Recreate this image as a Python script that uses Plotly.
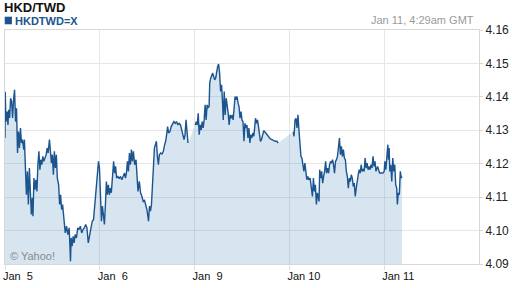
import plotly.graph_objects as go

# Trading-time hours since Jan 5 00:00 GMT (weekend removed), and HKD/TWD rate
hours = [
    0.00, 0.05, 0.25, 0.50, 0.75, 0.92, 1.17, 1.42, 1.67, 1.92, 2.17, 2.42, 2.67, 2.92,
    3.17, 3.42, 3.67, 3.92, 4.17, 4.42, 4.75, 4.92, 5.17, 5.42, 5.67, 5.92, 6.17, 6.42,
    6.67, 6.92, 7.08, 7.33, 7.58, 7.83, 8.08, 8.33, 8.58, 8.83, 9.08, 9.33, 9.58, 9.83,
    10.08, 10.42, 10.67, 10.92, 11.25, 11.50, 11.75, 12.00, 12.25, 12.50, 12.75, 13.00,
    13.25, 13.58, 13.83, 14.08, 14.33, 14.58, 14.92, 15.25, 15.58, 15.92, 16.25, 16.58,
    16.75, 17.00, 17.25, 17.50, 17.75, 18.08, 18.42, 18.75, 19.08, 19.42, 19.75, 20.08,
    20.42, 20.75, 21.08, 21.42, 21.75, 22.08, 22.42, 22.67, 22.92, 23.17, 23.42, 23.67,
    23.92, 24.17, 24.42, 24.67, 24.92, 25.17, 25.42, 25.67, 25.92, 26.17, 26.42, 26.67,
    26.92, 27.25, 27.50, 27.75, 28.00, 28.25, 28.58, 28.92, 29.25, 29.58, 29.92, 30.25,
    30.50, 30.75, 31.00, 31.25, 31.50, 31.75, 32.00, 32.25, 32.50, 32.83, 33.17, 33.42,
    33.67, 34.00, 34.33, 34.67, 35.00, 35.33, 35.67, 35.92, 36.17, 36.33, 36.58, 36.83,
    37.08, 37.33, 37.58, 37.83, 38.08, 38.33, 38.58, 38.83, 39.08, 39.42, 39.75, 40.08,
    40.42, 40.67, 40.92, 41.17, 41.42, 41.75, 42.08, 42.42, 42.75, 43.08, 43.42, 43.75,
    44.08, 44.42, 44.75, 45.08, 45.33, 45.58, 45.83, 46.08, 46.33,
    48.17, 48.42, 48.67, 48.92, 49.17, 49.42, 49.67, 49.92, 50.17, 50.42, 50.67, 50.92,
    51.17, 51.42, 51.67, 51.83, 52.08, 52.33, 52.58, 52.83, 53.08, 53.33, 53.58, 53.83,
    54.08, 54.33, 54.58, 54.83, 55.08, 55.25, 55.50, 55.75, 56.00, 56.25, 56.50, 56.75,
    57.00, 57.25, 57.50, 57.75, 58.00, 58.25, 58.50, 58.75, 59.00, 59.25, 59.50, 59.75,
    60.00, 60.25, 60.50, 60.75, 61.00, 61.25, 61.50, 61.75, 62.00, 62.25, 62.50, 62.75,
    63.00, 63.25, 63.42, 63.67, 63.92, 64.17, 64.42, 64.67, 64.92, 65.17, 65.50, 65.83,
    66.17, 66.50, 66.83, 67.17, 67.58, 68.00, 68.42, 68.83, 69.17,
    73.00, 73.17, 73.42, 73.67, 73.92, 74.17, 74.42, 74.67, 74.92, 75.17, 75.42, 75.67,
    75.92, 76.17, 76.42, 76.67, 76.92, 77.25, 77.58, 77.83, 78.08, 78.33, 78.58, 78.83,
    79.08, 79.33, 79.50, 79.67, 79.92, 80.17, 80.42, 80.67, 80.92, 81.17, 81.42, 81.67,
    81.92, 82.17, 82.42, 82.67, 82.92, 83.17, 83.42, 83.67, 83.92, 84.17, 84.42, 84.67,
    84.92, 85.17, 85.42, 85.67, 85.92, 86.17, 86.42, 86.67, 86.92, 87.17, 87.42, 87.67,
    87.92, 88.17, 88.42, 88.67, 88.92, 89.17, 89.42, 89.67, 89.92, 90.17, 90.42, 90.67,
    90.92, 91.17, 91.42, 91.67, 91.92, 92.17, 92.42, 92.67, 92.92, 93.17, 93.42, 93.67,
    93.92, 94.33, 94.58, 94.83, 95.25, 95.67, 96.00, 96.17, 96.42, 96.67, 96.92, 97.08,
    97.25, 97.42, 97.67, 97.92, 98.17, 98.42, 98.67, 98.92, 99.17, 99.33, 99.58, 99.83,
    100.08, 100.33, 100.48,
]

rate = [
    4.1277, 4.1415, 4.1326, 4.1356, 4.1316, 4.1361, 4.1337, 4.1396, 4.1386, 4.1337, 4.1391, 4.1421, 4.1326, 4.1366,
    4.1232, 4.1296, 4.1247, 4.1307, 4.1262, 4.1272, 4.1242, 4.1272, 4.1187, 4.1107, 4.1177, 4.1078, 4.1187, 4.1117,
    4.1048, 4.1098, 4.1043, 4.1157, 4.1122, 4.1152, 4.1117, 4.1197, 4.1237, 4.1182, 4.1212, 4.1197, 4.1222, 4.1207,
    4.1217, 4.1227, 4.1247, 4.1232, 4.1272, 4.1237, 4.1202, 4.1227, 4.1167, 4.1237, 4.1187, 4.1227,
    4.1157, 4.1137, 4.1078, 4.1107, 4.1063, 4.1078, 4.1018, 4.0993, 4.1013, 4.0988, 4.1008, 4.0908,
    4.0978, 4.0953, 4.0983, 4.0963, 4.0988, 4.0978, 4.1008, 4.1003, 4.1013, 4.0993, 4.1003, 4.1008,
    4.1018, 4.1008, 4.0963, 4.0988, 4.1008, 4.1028, 4.1033, 4.1073, 4.1098, 4.1157, 4.1192, 4.1207,
    4.1187, 4.1098, 4.1028, 4.1073, 4.1043, 4.1018, 4.1078, 4.1147, 4.1107, 4.1137, 4.1107, 4.1127,
    4.1113, 4.1167, 4.1207, 4.1172, 4.1192, 4.1157, 4.1162, 4.1155, 4.1162, 4.1152, 4.1162, 4.1172,
    4.1157, 4.1173, 4.1207, 4.1177, 4.1232, 4.1197, 4.1242, 4.1207, 4.1237, 4.1197, 4.1212, 4.1177,
    4.1117, 4.1147, 4.1113, 4.1102, 4.1087, 4.1090, 4.1078, 4.1063, 4.1043, 4.1028, 4.1073, 4.1058,
    4.1078, 4.1127, 4.1192, 4.1247, 4.1257, 4.1267, 4.1222, 4.1197, 4.1227, 4.1232, 4.1229, 4.1237,
    4.1257, 4.1267, 4.1287, 4.1311, 4.1292, 4.1296, 4.1311, 4.1319, 4.1326, 4.1321, 4.1326, 4.1316,
    4.1321, 4.1316, 4.1301, 4.1287, 4.1272, 4.1287, 4.1331, 4.1296, 4.1262,
    4.1316, 4.1326, 4.1316, 4.1351, 4.1287, 4.1316, 4.1301, 4.1326, 4.1307, 4.1331, 4.1376, 4.1331,
    4.1376, 4.1368, 4.1371, 4.1441, 4.1456, 4.1466, 4.1471, 4.1461, 4.1451, 4.1456, 4.1481, 4.1490,
    4.1498, 4.1471, 4.1416, 4.1436, 4.1381, 4.1331, 4.1416, 4.1346, 4.1396, 4.1376, 4.1351, 4.1316,
    4.1346, 4.1336, 4.1346, 4.1331, 4.1386, 4.1401, 4.1391, 4.1401, 4.1381, 4.1371, 4.1336, 4.1356,
    4.1331, 4.1326, 4.1267, 4.1321, 4.1307, 4.1316, 4.1277, 4.1307, 4.1262, 4.1287, 4.1277, 4.1292,
    4.1282, 4.1316, 4.1336, 4.1321, 4.1331, 4.1311, 4.1282, 4.1267, 4.1272, 4.1287, 4.1299, 4.1295,
    4.1289, 4.1284, 4.1277, 4.1274, 4.1272, 4.1269, 4.1267, 4.1267, 4.1262,
    4.1296, 4.1282, 4.1331, 4.1336, 4.1307, 4.1346, 4.1301, 4.1257, 4.1222, 4.1217, 4.1197, 4.1177,
    4.1202, 4.1162, 4.1152, 4.1162, 4.1152, 4.1157, 4.1127, 4.1102, 4.1157, 4.1117, 4.1137, 4.1078,
    4.1113, 4.1102, 4.1087, 4.1182, 4.1157, 4.1177, 4.1142, 4.1162, 4.1177, 4.1207, 4.1172, 4.1187,
    4.1172, 4.1197, 4.1207, 4.1202, 4.1212, 4.1197, 4.1172, 4.1207, 4.1212, 4.1222, 4.1257, 4.1277,
    4.1227, 4.1252, 4.1222, 4.1242, 4.1217, 4.1212, 4.1177, 4.1162, 4.1127, 4.1157, 4.1147, 4.1167,
    4.1157, 4.1132, 4.1142, 4.1102, 4.1127, 4.1157, 4.1167, 4.1182, 4.1172, 4.1197, 4.1177, 4.1182,
    4.1177, 4.1217, 4.1187, 4.1202, 4.1182, 4.1192, 4.1182, 4.1197, 4.1187, 4.1222, 4.1192, 4.1207,
    4.1177, 4.1192, 4.1182, 4.1172, 4.1172, 4.1172, 4.1177, 4.1207, 4.1182, 4.1217, 4.1257, 4.1212,
    4.1247, 4.1177, 4.1197, 4.1147, 4.1217, 4.1177, 4.1197, 4.1137, 4.1127, 4.1078, 4.1113, 4.1107,
    4.1177, 4.1157, 4.1162,
]

day_ticks = [0, 24, 48, 72, 96]
day_labels = ["Jan\u00a0\u00a05", "Jan\u00a0\u00a06", "Jan\u00a0\u00a09", "Jan 10", "Jan 11"]
rate_ticks = [4.09, 4.10, 4.11, 4.12, 4.13, 4.14, 4.15, 4.16]

title_text = "HKD/TWD"
series_name = "HKDTWD=X"
stamp_text = "Jan 11, 4:29am GMT"
credit_text = "\u00a9 Yahoo!"

LINE = "#1b548f"
FONT = "Liberation Sans, Arial, sans-serif"

# line with breaks where the feed has no quotes
line_x, line_y = [], []
for i, (h, r) in enumerate(zip(hours, rate)):
    if i > 0 and h - hours[i - 1] > 1.0:
        line_x.append(None)
        line_y.append(None)
    line_x.append(h)
    line_y.append(r)

fig = go.Figure()
fig.add_trace(go.Scatter(
    x=hours, y=rate, mode="lines", line=dict(width=0, color="rgba(0,0,0,0)"),
    fill="tozeroy", fillcolor="rgba(97,155,197,0.26)", hoverinfo="skip", showlegend=False,
))
fig.add_trace(go.Scatter(
    x=line_x, y=line_y, mode="lines", line=dict(width=1.4, color=LINE),
    connectgaps=False, showlegend=False,
))

fig.update_layout(
    width=512, height=288,
    margin=dict(l=3, r=29, t=30, b=24),
    paper_bgcolor="white", plot_bgcolor="white",
    font=dict(family=FONT, size=11, color="#222"),
    showlegend=False,
    xaxis=dict(
        range=[0, 120], tickvals=day_ticks, ticktext=day_labels,
        ticklabelposition="outside right", ticklabelshift=-3, ticklabelstandoff=2,
        showgrid=True, gridcolor="#e6e6e6", gridwidth=1,
        showline=True, linecolor="#d8d8d8", linewidth=1, mirror=True,
        ticks="outside", ticklen=5, tickcolor="#e0e0e0",
        tickfont=dict(size=11, color="#111"), zeroline=False, fixedrange=True,
    ),
    yaxis=dict(
        range=[4.09, 4.16], tickvals=rate_ticks, tickformat=".2f", side="right",
        showgrid=True, gridcolor="#e6e6e6", gridwidth=1,
        showline=True, linecolor="#d8d8d8", linewidth=1, mirror=True,
        ticks="outside", ticklen=3, tickcolor="#d8d8d8",
        tickfont=dict(size=12, color="#222"), zeroline=False, fixedrange=True,
    ),
    shapes=[dict(type="rect", xref="paper", yref="paper",
                 x0=-0.0006, x1=0.0146, y0=1.0244, y1=1.0568,
                 fillcolor=LINE, line=dict(width=0))],
    annotations=[
        dict(text="<b>%s</b>" % title_text, xref="paper", yref="paper", x=-0.004, y=1.097,
             xanchor="left", yanchor="middle", showarrow=False, borderpad=0,
             font=dict(size=13, color="#111", family=FONT)),
        dict(text="<b>%s</b>" % series_name, xref="paper", yref="paper", x=0.0195, y=1.037,
             xanchor="left", yanchor="middle", showarrow=False, borderpad=0,
             font=dict(size=11, color=LINE, family=FONT)),
        dict(text=stamp_text, xref="paper", yref="paper", x=0.9917, y=1.043,
             xanchor="right", yanchor="middle", showarrow=False, borderpad=0,
             font=dict(size=11, color="#9a9a9a", family=FONT)),
        dict(text=credit_text, xref="paper", yref="paper", x=0.0077, y=0.033,
             xanchor="left", yanchor="middle", showarrow=False, borderpad=0,
             font=dict(size=11, color="#8a8a8a", family=FONT)),
    ],
)

fig.write_html("out.html", config={"displayModeBar": False})
